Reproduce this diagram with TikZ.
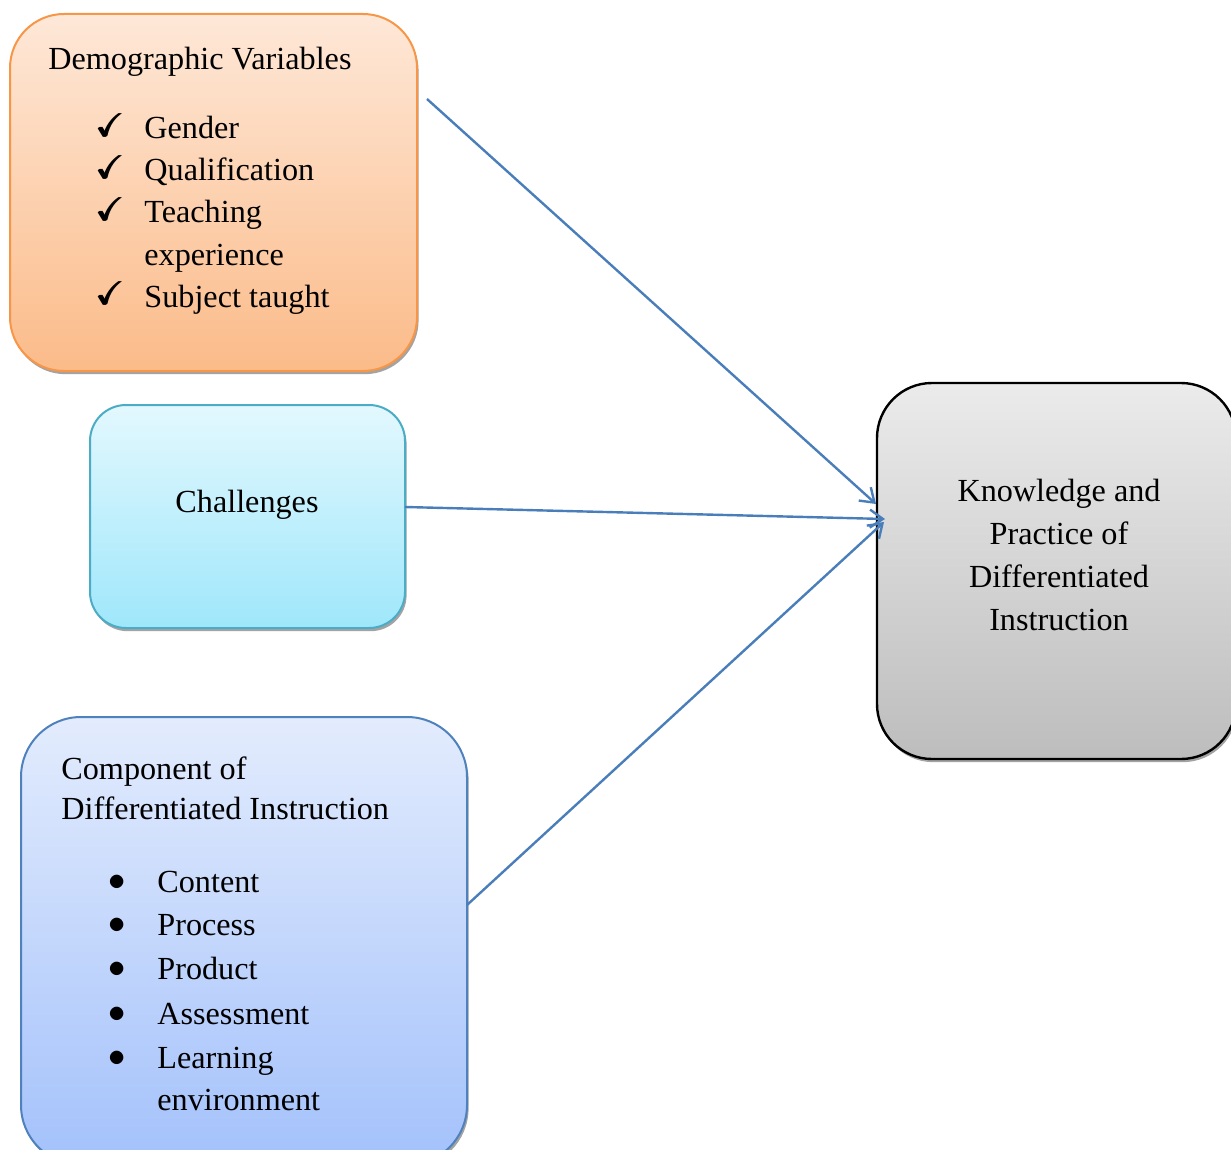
\documentclass[tikz,border=0pt]{standalone}
\usepackage{amsmath,amssymb}
\usepackage{fontspec}
\setmainfont{Liberation Serif}
\usetikzlibrary{arrows.meta,shadows}
\definecolor{orgB}{HTML}{F79646}
\definecolor{orgT}{HTML}{FEE8D8}
\definecolor{orgL}{HTML}{FBBB89}
\definecolor{cyaB}{HTML}{4BACC6}
\definecolor{cyaT}{HTML}{E3F8FE}
\definecolor{cyaL}{HTML}{9FE7FB}
\definecolor{bluB}{HTML}{4F81BD}
\definecolor{bluT}{HTML}{E3ECFD}
\definecolor{bluL}{HTML}{A3C1FB}
\definecolor{gryT}{HTML}{EBEBEB}
\definecolor{gryL}{HTML}{BDBDBD}
\definecolor{arrC}{HTML}{4A7EBB}
\begin{document}
\begin{tikzpicture}[x=0.5pt,y=-0.5pt,
  boxshape/.style={rectangle, inner sep=0pt, line width=1pt,
    drop shadow={shadow xshift=0.8pt, shadow yshift=-1.6pt, fill=black!45, opacity=0.8}},
  txt/.style={inner sep=0pt, font=\fontsize{16.1}{19}\selectfont},
  chk/.style={inner sep=0pt, font=\fontsize{16.5}{19}\selectfont},
  bul/.style={inner sep=0pt, font=\fontsize{19}{21}\selectfont},
  conn/.style={draw=arrC, line width=1.2pt, -{Straight Barb[length=6.5pt,width=9pt,line width=1.2pt]}}]
\useasboundingbox (0,0) rectangle (1231,1150);
\clip (0,0) rectangle (1231,1150);
% boxes
\node[boxshape, draw=orgB, top color=orgT, bottom color=orgL, rounded corners=27pt,
  minimum width=203.5pt, minimum height=178.5pt] (demo) at (213.5,192.5) {};
\node[boxshape, draw=cyaB, top color=cyaT, bottom color=cyaL, rounded corners=18pt,
  minimum width=157.5pt, minimum height=111.5pt] (chal) at (247.5,516.5) {};
\node[boxshape, draw=bluB, top color=bluT, bottom color=bluL, rounded corners=30pt,
  minimum width=223pt, minimum height=224pt] (comp) at (244,941) {};
\node[boxshape, draw=black, top color=gryT, bottom color=gryL, rounded corners=27.5pt,
  line width=1.2pt, minimum width=179.5pt, minimum height=188pt] (know) at (1056.5,571) {};
% texts: demographic
\node[txt, anchor=base west] (dT) at (48,70) {Demographic Variables};
\node[chk, anchor=base west] (dC1) at (97,137) {$\pmb{\checkmark}$};
\node[chk, anchor=base west] (dC2) at (97,179) {$\pmb{\checkmark}$};
\node[chk, anchor=base west] (dC3) at (97,221) {$\pmb{\checkmark}$};
\node[chk, anchor=base west] (dC4) at (97,305) {$\pmb{\checkmark}$};
\node[txt, anchor=base west] (d1) at (144,139) {Gender};
\node[txt, anchor=base west] (d2) at (144,181) {Qualification};
\node[txt, anchor=base west] (d3) at (144,223) {Teaching};
\node[txt, anchor=base west] (d3b) at (144,265) {experience};
\node[txt, anchor=base west] (d4) at (144,307) {Subject taught};
% challenges
\node[txt, anchor=base] (cT) at (247,512) {Challenges};
% component
\node[txt, anchor=base west] (pT1) at (61,779) {Component of};
\node[txt, anchor=base west] (pT2) at (61,819) {Differentiated Instruction};
\node[bul, anchor=center] (pB1) at (117,883) {$\bullet$};
\node[bul, anchor=center] (pB2) at (117,926) {$\bullet$};
\node[bul, anchor=center] (pB3) at (117,970) {$\bullet$};
\node[bul, anchor=center] (pB4) at (117,1015) {$\bullet$};
\node[bul, anchor=center] (pB5) at (117,1059) {$\bullet$};
\node[txt, anchor=base west] (p1) at (157,892) {Content};
\node[txt, anchor=base west] (p2) at (157,935) {Process};
\node[txt, anchor=base west] (p3) at (157,979) {Product};
\node[txt, anchor=base west] (p4) at (157,1024) {Assessment};
\node[txt, anchor=base west] (p5) at (157,1068) {Learning};
\node[txt, anchor=base west] (p5b) at (157,1110) {environment};
% knowledge
\node[txt, anchor=base] (k1) at (1059,501) {Knowledge and};
\node[txt, anchor=base] (k2) at (1059,544) {Practice of};
\node[txt, anchor=base] (k3) at (1059,587) {Differentiated};
\node[txt, anchor=base] (k4) at (1059,630) {Instruction};
% connectors
\coordinate (a1s) at (427,99);
\coordinate (a1e) at (876,504);
\coordinate (a2s) at (405,507);
\coordinate (a2e) at (885,519);
\coordinate (a3s) at (467,905);
\coordinate (a3e) at (884,522);
\draw[conn] (a1s) -- (a1e);
\draw[conn] (a2s) -- (a2e);
\draw[conn] (a3s) -- (a3e);
\end{tikzpicture}
\end{document}
